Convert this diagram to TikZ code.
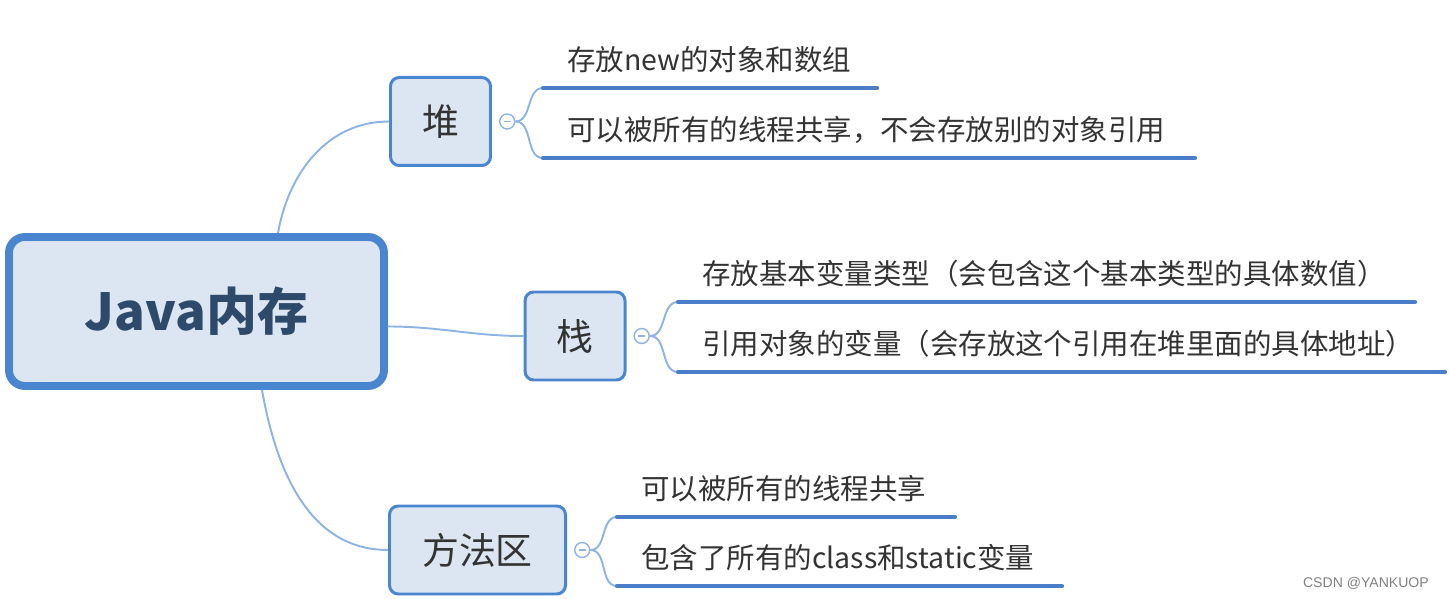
\documentclass[tikz,border=0pt]{standalone}
\usepackage{fontspec, tkz-euclide}
\setmainfont{Noto Sans CJK SC}
\newfontfamily\markfont{Liberation Sans}
\usetikzlibrary{positioning}
\tikzset{>=stealth}
\definecolor{boxblue}{HTML}{4A86CF}
\definecolor{boxfill}{HTML}{DCE6F2}
\definecolor{linkblue}{HTML}{8DB4E2}
\definecolor{barblue}{HTML}{4A7EC8}
\definecolor{txtgray}{HTML}{333333}
\definecolor{roottxt}{HTML}{2E4A6B}
\tikzset{
    topic/.style = {draw = boxblue, fill = boxfill, rounded corners = 5pt, line width = 1.7pt,
        text = txtgray, font = \fontsize{21}{21}\selectfont, inner sep = 0pt,
        minimum width = 2.0cm, minimum height = 1.76cm},
    leaf/.style = {anchor = west, text = txtgray, font = \fontsize{16.2}{16.2}\selectfont, inner sep = 0pt},
    foldmark/.style = {circle, draw = linkblue, fill = white, line width = 0.8pt,
        minimum size = 0.3cm, inner sep = 0pt, right = 0.14cm of #1},
    linkline/.style = {draw = linkblue, line width = 1.1pt},
    barline/.style = {draw = barblue, line width = 2.4pt}
}

\begin{document}
\begin{tikzpicture}
    \useasboundingbox (0,0) rectangle (28.98,11.98);
    \node[topic, line width = 4.5pt, rounded corners = 9pt, minimum width = 7.5cm, minimum height = 2.98cm,
        text = roottxt, font = \fontsize{29}{29}\selectfont\bfseries] (java) at (3.93,5.75) {Java内存};
    \node[topic] (heap) at (8.81,9.55) {堆};
    \node[topic] (stack) at (11.5,5.26) {栈};
    \node[topic, minimum width = 3.52cm] (method) at (9.55,0.98) {方法区};
    \node[foldmark = heap] (heapfold) {};
    \node[foldmark = stack] (stackfold) {};
    \node[foldmark = method] (methodfold) {};
    \foreach \f in {heapfold, stackfold, methodfold}
        \draw[linkblue, line width = 0.6pt] ([xshift = -0.07cm]\f.center) -- ([xshift = 0.07cm]\f.center);
    \draw[linkline] ([xshift = 1.63cm]java.north) to[out = 80, in = 180] (heap.west);
    \draw[linkline] ([yshift = -0.3cm]java.east) to[out = 0, in = 180] (stack.west);
    \draw[linkline] ([xshift = 1.31cm]java.south) to[out = -80, in = 180] (method.west);
    \tkzDefPoints{10.86/10.22/h1a, 17.54/10.22/h1b, 10.86/8.82/h2a, 23.9/8.82/h2b,
        13.56/5.94/s1a, 28.3/5.94/s1b, 13.56/4.54/s2a, 28.9/4.54/s2b,
        12.34/1.64/m1a, 19.1/1.64/m1b, 12.34/0.26/m2a, 21.24/0.26/m2b}
    \draw[linkline] (heapfold.east) to[out = 0, in = 180] (h1a);
    \draw[linkline] (heapfold.east) to[out = 0, in = 180] (h2a);
    \draw[linkline] (stackfold.east) to[out = 0, in = 180] (s1a);
    \draw[linkline] (stackfold.east) to[out = 0, in = 180] (s2a);
    \draw[linkline] (methodfold.east) to[out = 0, in = 180] (m1a);
    \draw[linkline] (methodfold.east) to[out = 0, in = 180] (m2a);
    \tkzDrawSegments[barline](h1a,h1b h2a,h2b s1a,s1b s2a,s2b m1a,m1b m2a,m2b)
    \node[leaf] (h1t) at ([shift = {(0.48,0.57)}]h1a) {存放new的对象和数组};
    \node[leaf] (h2t) at ([shift = {(0.48,0.57)}]h2a) {可以被所有的线程共享，不会存放别的对象引用};
    \node[leaf] (s1t) at ([shift = {(0.48,0.57)}]s1a) {存放基本变量类型（会包含这个基本类型的具体数值）};
    \node[leaf] (s2t) at ([shift = {(0.48,0.57)}]s2a) {引用对象的变量（会存放这个引用在堆里面的具体地址）};
    \node[leaf] (m1t) at ([shift = {(0.48,0.57)}]m1a) {可以被所有的线程共享};
    \node[leaf] (m2t) at ([shift = {(0.48,0.57)}]m2a) {包含了所有的class和static变量};
    \node[anchor = east, text = gray, font = \markfont\fontsize{8}{8}\selectfont] (mark) at (28.7,0.32) {CSDN @YANKUOP};
\end{tikzpicture}
\end{document}
